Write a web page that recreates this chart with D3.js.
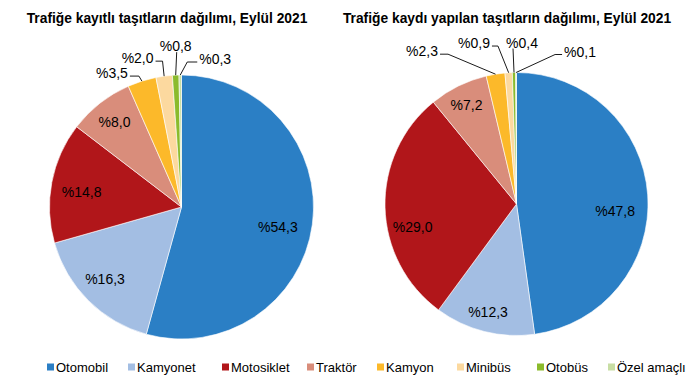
<!DOCTYPE html>
<html><head><meta charset="utf-8">
<script src="https://cdn.jsdelivr.net/npm/d3@7"></script>
<style>
html,body{margin:0;padding:0;background:#fff;}
svg{display:block;font-family:"Liberation Sans",Arial,sans-serif;}
</style></head>
<body>
<svg id="chart" width="699" height="390"></svg>
<script>
// ---- data ----
const categories = ["Otomobil","Kamyonet","Motosiklet","Traktör","Kamyon","Minibüs","Otobüs","Özel amaçlı"];
const registeredValues = [54.3, 16.3, 14.8, 8.0, 3.5, 2.0, 0.8, 0.3];
const newRegValues = [47.8, 12.3, 29.0, 7.2, 2.3, 0.9, 0.4, 0.1];
const titles = ["Trafiğe kayıtlı taşıtların dağılımı, Eylül 2021", "Trafiğe kaydı yapılan taşıtların dağılımı, Eylül 2021"];
const colors = ["#2b7fc5","#a3bee3","#b1161a","#d98d7b","#fcb92a","#fcd99f","#8bbb2c","#c8dea4"];

// ---- layout (label nudges and callout leader geometry, relative offsets) ----
const layout = [
  {cx:181.5, cy:207, r:132, titleX:167,
   nudge:{0:[-7,6], 1:[-3,-2], 2:[2.6,4.6], 3:[-2.5,-3]},
   callouts:{4:{ex:-3,ey:-5,sx:-9}, 5:{ex:-1.6,ey:-15,sx:-7}, 6:{ex:1,ey:-23,sx:0,tdx:-1}, 7:{ex:7,ey:-13,sx:10}}},
  {cx:516.5, cy:204, r:131.5, titleX:507,
   nudge:{0:[-5,14], 1:[-3,7], 2:[0,20], 3:[-4,-6]},
   callouts:{4:{ex:-47.5,ey:-20,sx:-8}, 5:{ex:-10.7,ey:-26.7,sx:-6}, 6:{ex:-1,ey:-24,sx:0,tdx:9}, 7:{ex:39,ey:-18,sx:7}}}
];

const svg = d3.select("#chart");
const color = d3.scaleOrdinal().domain(categories).range(colors);
const fmt = v => "%" + d3.format(".1f")(v).replace(".", ",");

[registeredValues, newRegValues].forEach((vals, pi) => {
  const L = layout[pi];
  const data = categories.map((c, i) => ({cat: c, value: vals[i], i}));
  const pie = d3.pie().sort(null).value(d => d.value);
  const arcs = pie(data);
  const arc = d3.arc().innerRadius(0).outerRadius(L.r);
  const labelArc = d3.arc().innerRadius(L.r * 0.79).outerRadius(L.r * 0.79);

  svg.append("text").attr("x", L.titleX).attr("y", 18)
    .attr("text-anchor", "middle").attr("dominant-baseline", "central")
    .attr("font-weight", "bold").attr("font-size", 13.8).attr("fill", "#000")
    .text(titles[pi]);

  const g = svg.append("g").attr("transform", `translate(${L.cx},${L.cy})`);
  g.selectAll("path").data(arcs).join("path")
    .attr("d", arc).attr("fill", d => color(d.data.cat))
    .attr("stroke", "#fff").attr("stroke-width", 0.6);

  arcs.forEach(a => {
    const co = L.callouts[a.data.i];
    const txt = fmt(a.data.value);
    if (!co) {
      const [x, y] = labelArc.centroid(a);
      const n = L.nudge[a.data.i] || [0, 0];
      g.append("text").attr("x", x + n[0]).attr("y", y + n[1])
        .attr("text-anchor", "middle").attr("dominant-baseline", "central")
        .attr("font-size", 14).attr("fill", "#000").text(txt);
    } else {
      const mid = (a.startAngle + a.endAngle) / 2;
      const ax = L.r * Math.sin(mid), ay = -L.r * Math.cos(mid);
      const ex = ax + co.ex, ey = ay + co.ey;
      const sx = ex + co.sx;
      const pts = co.sx === 0 ? [[ax, ay], [ex, ey]] : [[ax, ay], [ex, ey], [sx, ey]];
      g.append("path").attr("d", d3.line()(pts))
        .attr("fill", "none").attr("stroke", "#000").attr("stroke-width", 0.9);
      const t = g.append("text").attr("font-size", 14).attr("fill", "#000")
        .attr("dominant-baseline", "central").text(txt);
      if (co.sx === 0) {
        t.attr("x", ex + (co.tdx || 0)).attr("y", ey - 6).attr("text-anchor", "middle");
      } else if (co.sx < 0) {
        t.attr("x", sx - 2).attr("y", ey - 3).attr("text-anchor", "end");
      } else {
        t.attr("x", sx + 2).attr("y", ey - 3).attr("text-anchor", "start");
      }
    }
  });
});

// ---- legend ----
const legendX = [47, 128, 222, 307, 377, 457, 537, 608];
const lg = svg.append("g");
categories.forEach((c, i) => {
  const it = lg.append("g").attr("transform", `translate(${legendX[i]},367)`);
  it.append("rect").attr("x", 0).attr("y", -3.5).attr("width", 7).attr("height", 7).attr("fill", color(c));
  it.append("text").attr("x", 9).attr("y", 0).attr("dominant-baseline", "central")
    .attr("font-size", 13).attr("fill", "#000").text(c);
});
</script>
</body></html>
